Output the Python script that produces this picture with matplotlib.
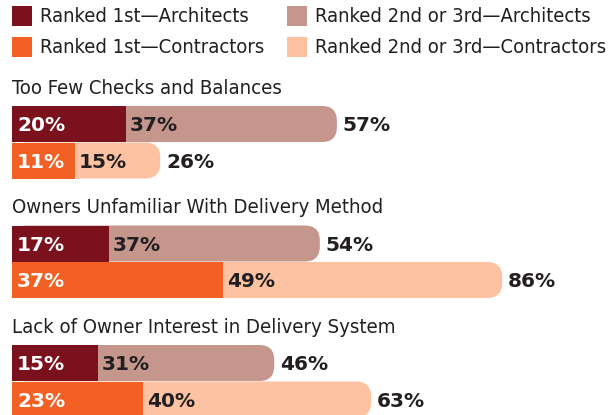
import matplotlib
matplotlib.use("Agg")
import matplotlib.pyplot as plt
from matplotlib import font_manager
from matplotlib.patches import FancyBboxPatch, Rectangle

# survey data (percent)
categories = ["Too Few Checks and Balances",
              "Owners Unfamiliar With Delivery Method",
              "Lack of Owner Interest in Delivery System"]
arch_first = [20, 17, 15]
arch_second = [37, 37, 31]
arch_total = [57, 54, 46]
cont_first = [11, 37, 23]
cont_second = [15, 49, 40]
cont_total = [26, 86, 63]

legend_labels = ["Ranked 1st\u2014Architects", "Ranked 2nd or 3rd\u2014Architects",
                 "Ranked 1st\u2014Contractors", "Ranked 2nd or 3rd\u2014Contractors"]

DARK = "#7B111C"
ROSE = "#C4968C"
ORANGE = "#F26024"
PEACH = "#FDC2A1"
TEXT = "#231F20"


def find_narrow():
    # look for any installed condensed / narrow regular face
    for f in font_manager.fontManager.ttflist:
        tag = (f.name + " " + str(f.fname)).lower()
        if ("condensed" in tag or "narrow" in tag or f.stretch in ("condensed", "semi-condensed")) \
                and f.weight in (400, "normal", "regular") and f.style == "normal":
            return font_manager.FontProperties(fname=f.fname), True
    return font_manager.FontProperties(family="Roboto"), False


narrow_fp, is_narrow = find_narrow()
title_size = 14.6 if is_narrow else 13
legend_size = 14.5 if is_narrow else 12.8

W, H = 613, 415
fig = plt.figure(figsize=(W / 100, H / 100), dpi=100)
ax = fig.add_axes([0, 0, 1, 1])
px = 5.70  # pixels per percent
x0 = 12
ax.set_xlim(-x0 / px, (W - x0) / px)
ax.set_ylim(H, 0)
ax.axis("off")

bar_h = 36
pitch = 36.5
group_top = [106, 225.5, 345]
radius = 15


def num_text(x, y, s, color):
    ax.text(x, y, s, color=color, fontsize=14.5, fontweight="bold",
            family="DejaVu Sans", va="center", ha="left")


def draw_bar(top, first, second, total, c1, c2):
    yc = top + bar_h / 2 + 1.5
    # rounded full-length bar, then the square first segment over it
    box = FancyBboxPatch((0, top), total, bar_h,
                         boxstyle=f"round,pad=0,rounding_size={radius / px}",
                         mutation_aspect=px, fc=c2, ec="none", lw=0)
    ax.add_patch(box)
    ax.barh(top + bar_h / 2, first, height=bar_h, left=0, color=c1, lw=0)
    num_text(5 / px, yc, f"{first}%", "white")
    num_text(first + 4 / px, yc, f"{second}%", TEXT)
    num_text(total + 6 / px, yc, f"{total}%", TEXT)


for i, cat in enumerate(categories):
    top = group_top[i]
    ax.text(0, top - 18, cat, fontproperties=narrow_fp, fontsize=title_size,
            color=TEXT, va="center", ha="left")
    draw_bar(top, arch_first[i], arch_second[i], arch_total[i], DARK, ROSE)
    draw_bar(top + pitch, cont_first[i], cont_second[i], cont_total[i], ORANGE, PEACH)

# legend keys, laid out in figure pixels
key_colors = [DARK, ROSE, ORANGE, PEACH]
col_x = [12, 287]
row_y = [6, 37]
key = 20
for k, (lab, c) in enumerate(zip(legend_labels, key_colors)):
    kx, ky = col_x[k % 2], row_y[k // 2]
    fig.patches.append(Rectangle((kx / W, 1 - (ky + key) / H), key / W, key / H,
                                 transform=fig.transFigure, fc=c, ec="none"))
    fig.text((kx + 28) / W, 1 - (ky + 10.5) / H, lab, fontproperties=narrow_fp,
             fontsize=legend_size, color=TEXT, va="center", ha="left")

fig.savefig("out.png", dpi=100)
